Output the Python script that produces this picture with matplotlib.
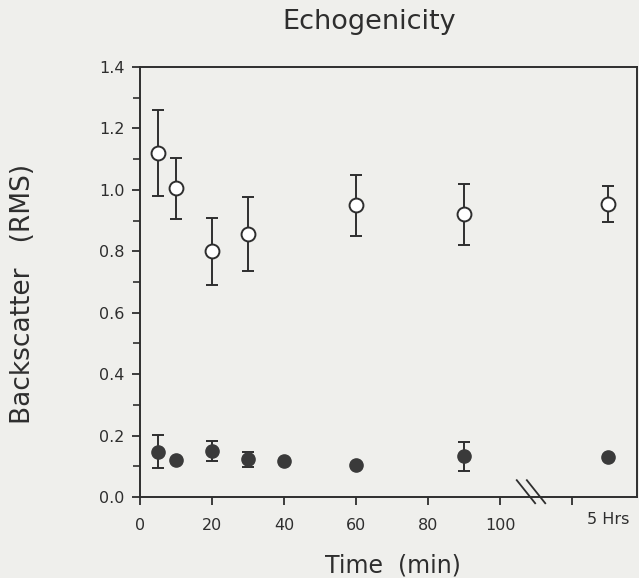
import matplotlib
matplotlib.use("Agg")
import matplotlib.pyplot as plt
import numpy as np

plt.rcParams['font.family'] = ['DejaVu Sans']

# Data (time in minutes; "5 Hrs" point placed after the axis break)
five_hr_pos = 130
open_t = [5, 10, 20, 30, 60, 90, five_hr_pos]
open_v = [1.12, 1.005, 0.80, 0.857, 0.95, 0.92, 0.954]
open_err = [0.14, 0.10, 0.11, 0.12, 0.10, 0.10, 0.06]

filled_t = [5, 10, 20, 30, 40, 60, 90, five_hr_pos]
filled_v = [0.148, 0.12, 0.151, 0.123, 0.118, 0.104, 0.133, 0.13]
filled_err = [0.053, 0.0, 0.033, 0.025, 0.0, 0.0, 0.047, 0.0]

xticks = [0, 20, 40, 60, 80, 100, 120]
xticklabels = ['0', '20', '40', '60', '80', '100', '']
yticks = [0.0, 0.2, 0.4, 0.6, 0.8, 1.0, 1.2, 1.4]

bg = '#efefec'
ink = '#2e2e2e'

fig = plt.figure(figsize=(6.39, 5.78), dpi=100, facecolor=bg)
ax = fig.add_axes([0.219, 0.140, 0.778, 0.744])
ax.set_facecolor(bg)

ax.errorbar(open_t, open_v, yerr=open_err, fmt='o', ms=10, mfc='white',
            mec=ink, mew=1.4, ecolor=ink, elinewidth=1.4, capsize=4.5,
            capthick=1.4, zorder=3)
ax.errorbar(filled_t, filled_v, yerr=filled_err, fmt='o', ms=9.5, mfc='#3a3a3a',
            mec='#3a3a3a', ecolor=ink, elinewidth=1.4, capsize=4.5,
            capthick=1.4, zorder=3)

ax.set_xlim(0, 138)
ax.set_ylim(0, 1.4)
ax.set_xticks(xticks)
ax.set_xticklabels(xticklabels)
ax.set_yticks(yticks)
ax.set_yticklabels([f'{v:.1f}' for v in yticks])
ax.set_yticks(np.arange(0.1, 1.4, 0.2), minor=True)

for s in ax.spines.values():
    s.set_color(ink)
    s.set_linewidth(1.4)

ax.tick_params(axis='both', which='major', direction='out', length=6,
               width=1.3, colors=ink, labelsize=11.5)
ax.tick_params(axis='y', which='minor', direction='out', length=5, width=1.2, colors=ink)
ax.tick_params(axis='x', pad=9)
ax.tick_params(axis='y', pad=5)

# "5 Hrs" label
ax.text(five_hr_pos, -0.05, '5 Hrs', ha='center', va='top', fontsize=11.5,
        color=ink, transform=ax.transData, clip_on=False)

# Axis break marks
for x0 in (104.6, 107.4):
    ax.plot([x0, x0 + 5.1], [0.055, -0.02], color=ink, lw=1.3, clip_on=False, zorder=4)

fig.text(0.577, 0.962, 'Echogenicity', fontsize=19.5, color=ink, ha='center', va='center')
fig.text(0.615, 0.022, 'Time  (min)', fontsize=17, color=ink, ha='center', va='center')
fig.text(0.036, 0.491, 'Backscatter   (RMS)', fontsize=19, color=ink, ha='center',
         va='center', rotation=90)

fig.savefig('out.png', dpi=100, facecolor=bg)
